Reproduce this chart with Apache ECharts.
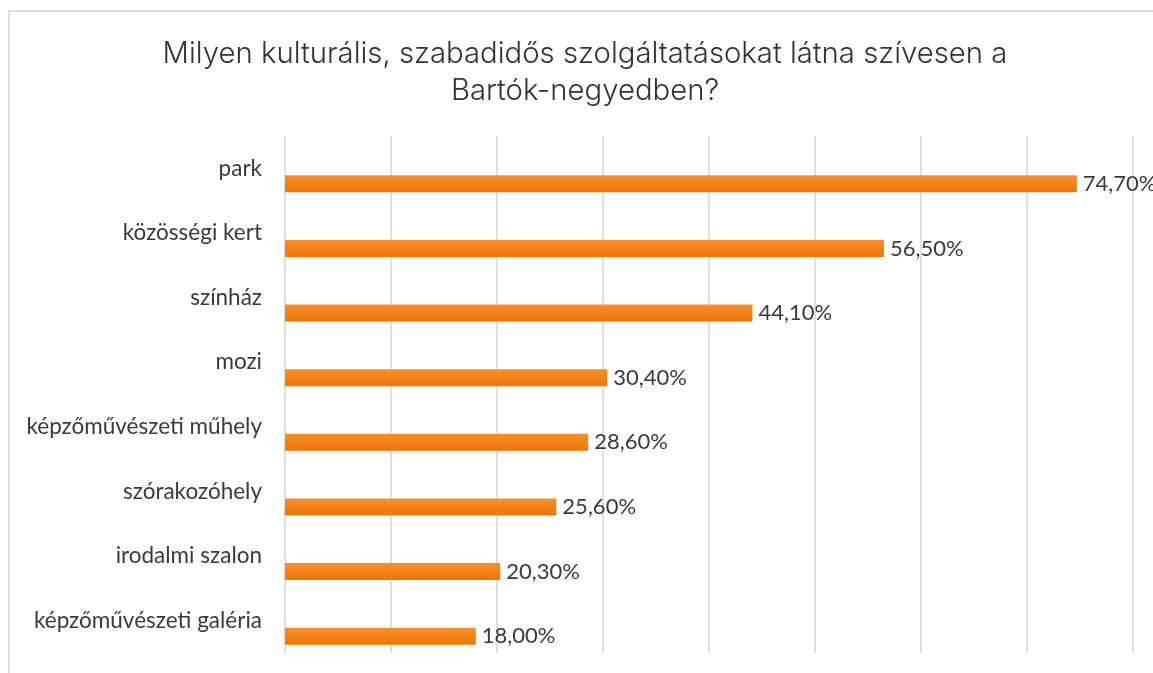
<!DOCTYPE html>
<html>
<head>
<meta charset="utf-8">
<script src="https://cdn.jsdelivr.net/npm/echarts@6/dist/echarts.min.js"></script>
<style>
  html, body { margin: 0; padding: 0; background: #fff; }
  #chart { width: 1153px; height: 673px; }
</style>
</head>
<body>
<div id="chart"></div>
<script>
// adatok
var categories = ['park', 'közösségi kert', 'színház', 'mozi', 'képzőművészeti műhely', 'szórakozóhely', 'irodalmi szalon', 'képzőművészeti galéria'];
var values = [74.7, 56.5, 44.1, 30.4, 28.6, 25.6, 20.3, 18.0];
var emptyValues = [null, null, null, null, null, null, null, null];
var titleText = 'Milyen kulturális, szabadidős szolgáltatásokat látna szívesen a\nBartók-negyedben?';

(function() {
  var myChart = echarts.init(document.getElementById('chart'));
  var option = {
    animation: false,
    title: {
      text: titleText,
      left: 580,
      top: 31,
      textAlign: 'center',
      textStyle: {
        fontFamily: 'Inter',
        fontWeight: 300,
        fontSize: 29.3,
        lineHeight: 37,
        color: '#333333'
      }
    },
    // keret
    graphic: [{
      type: 'rect',
      shape: { x: 9, y: 11, width: 1300, height: 800 },
      style: { fill: 'none', stroke: '#dedede', lineWidth: 2 },
      silent: true
    }],
    grid: {
      left: 285,
      right: 20,
      top: 136,
      bottom: 20
    },
    xAxis: {
      type: 'value',
      min: 0,
      max: 80,
      interval: 10,
      axisLabel: { show: false },
      axisLine: { show: false },
      axisTick: { show: false },
      splitLine: {
        show: true,
        lineStyle: { color: '#e0e0e0', width: 2 }
      }
    },
    yAxis: {
      type: 'category',
      data: categories,
      inverse: true,
      axisLine: { show: false },
      axisTick: { show: false },
      axisLabel: {
        margin: 23,
        fontFamily: 'Lato',
        fontSize: 22.5,
        color: '#3a3a3a'
      }
    },
    series: [
      {
        name: 'ures',
        type: 'bar',
        data: emptyValues,
        barWidth: 17,
        barGap: '82%'
      },
      {
        name: 'arany',
        type: 'bar',
        data: values,
        barWidth: 17,
        barGap: '82%',
        itemStyle: {
          color: new echarts.graphic.LinearGradient(0, 0, 0, 1, [
            { offset: 0, color: '#f98e2a' },
            { offset: 1, color: '#ec7604' }
          ])
        },
        label: {
          show: true,
          position: 'right',
          distance: 6,
          fontFamily: 'Lato',
          fontSize: 22,
          color: '#3a3a3a',
          formatter: function (p) {
            return p.value.toFixed(2).replace('.', ',') + '%';
          }
        }
      }
    ]
  };
  myChart.setOption(option);
  window.addEventListener('resize', function () {
    myChart.resize();
  });
})();
</script>
</body>
</html>
